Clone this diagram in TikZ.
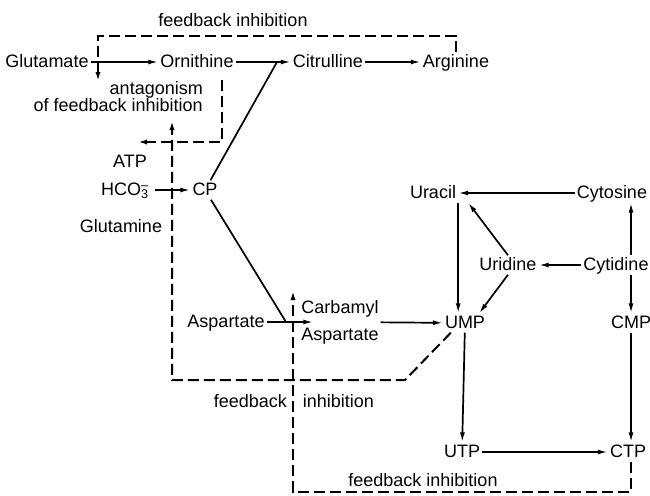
\documentclass[tikz,border=0pt]{standalone}
\usepackage{fontspec}
\setmainfont{Liberation Sans}
\usetikzlibrary{arrows.meta}
\tikzset{
  every node/.style={font=\fontsize{18}{20}\selectfont, inner sep=2pt,
    text height=13pt, text depth=2pt},
  rxn/.style={line width=1.7pt, -{Latex[length=10pt,width=5pt]}},
  link/.style={line width=1.7pt},
  fback/.style={line width=2pt, dash pattern=on 11pt off 5pt},
  fbarrow/.style={fback, -{Latex[length=10pt,width=5pt]}},
}
\begin{document}
\begin{tikzpicture}[x=1pt,y=-1pt]
      \useasboundingbox (0,0) rectangle (650,495);
      \node (glu) at (47,62) {Glutamate};
      \node (orn) at (197,62) {Ornithine};
      \node (cit) at (328,62) {Citrulline};
      \node (arg) at (456,62) {Arginine};
      \node[align=right, anchor=east, text height=, text depth=,
        font=\fontsize{18}{17}\selectfont] (anta) at (205,97)
        {antagonism\\of feedback inhibition};
      \node (atp) at (130,162) {ATP};
      \node (hco) at (125,190) {HCO\rlap{\textsuperscript{--}}\textsubscript{3}};
      \node (cp) at (205,190) {CP};
      \node (gln) at (121,227) {Glutamine};
      \node (asp) at (226,322) {Aspartate};
      \node[align=center, text height=, text depth=] (ca) at (340,322)
        {Carbamyl\\[7pt]Aspartate};
      \node (ump) at (465,323) {UMP};
      \node (ura) at (433,193) {Uracil};
      \node (cyt) at (612,193) {Cytosine};
      \node (uri) at (508,265) {Uridine};
      \node (cyd) at (616,265) {Cytidine};
      \node (cmp) at (631,323) {CMP};
      \node (utp) at (462,452) {UTP};
      \node (ctp) at (628,452) {CTP};
      \node (fbtop) at (233,21) {feedback inhibition};
      \node (fbmid) at (294,402) {feedback\hspace{16pt}inhibition};
      \node (fbbot) at (423,481) {feedback inhibition};
      \coordinate (j1) at (277,62);
      \coordinate (j2) at (286,322);
      \coordinate (glutip) at (98,82);
      \coordinate (atptip) at (137,142);
      \coordinate (antatip) at (172,120);
      \coordinate (catip) at (293,290);
      \draw[rxn] (glu) -- (orn);
      \draw[rxn] (orn) -- (cit);
      \draw[rxn] (cit) -- (arg);
      \draw[rxn] ([xshift=4pt]hco.east) -- (cp);
      \draw[link] (cp) -- (j1);
      \draw[link] (cp) -- (j2);
      \draw[rxn] (asp) -- ([xshift=14pt]ca.west);
      \draw[rxn] (ca) -- (ump);
      \draw[rxn] (cyt) -- (ura);
      \draw[rxn] (cyd) -- (uri);
      \draw[rxn] (uri.north) -- ([xshift=10pt]ura.south east);
      \draw[rxn] (uri.south) -- ([xshift=-8pt]ump.north east);
      \draw[rxn] (ura.south east) -- (ura.south east |- ump.north);
      \draw[rxn] (cyd.north -| cmp) -- (cyt.south -| cmp);
      \draw[rxn] (cyd.south -| cmp) -- (cmp);
      \draw[rxn] (cmp) -- (cmp |- ctp.north);
      \draw[rxn] (ump) -- (utp);
      \draw[rxn] (utp) -- (ctp);
      \begin{scope}[fbarrow]
        \draw (arg.north) |- (98,36) -- (glutip);
        \draw ([xshift=-14pt,yshift=-8pt]orn.south east) |- (atptip);
        \draw ([xshift=8pt]ump.south west) -- (405,380) -| (antatip);
        \draw (ctp.south -| cmp) |- (293,492) -- (catip);
      \end{scope}
    \end{tikzpicture}
\end{document}
